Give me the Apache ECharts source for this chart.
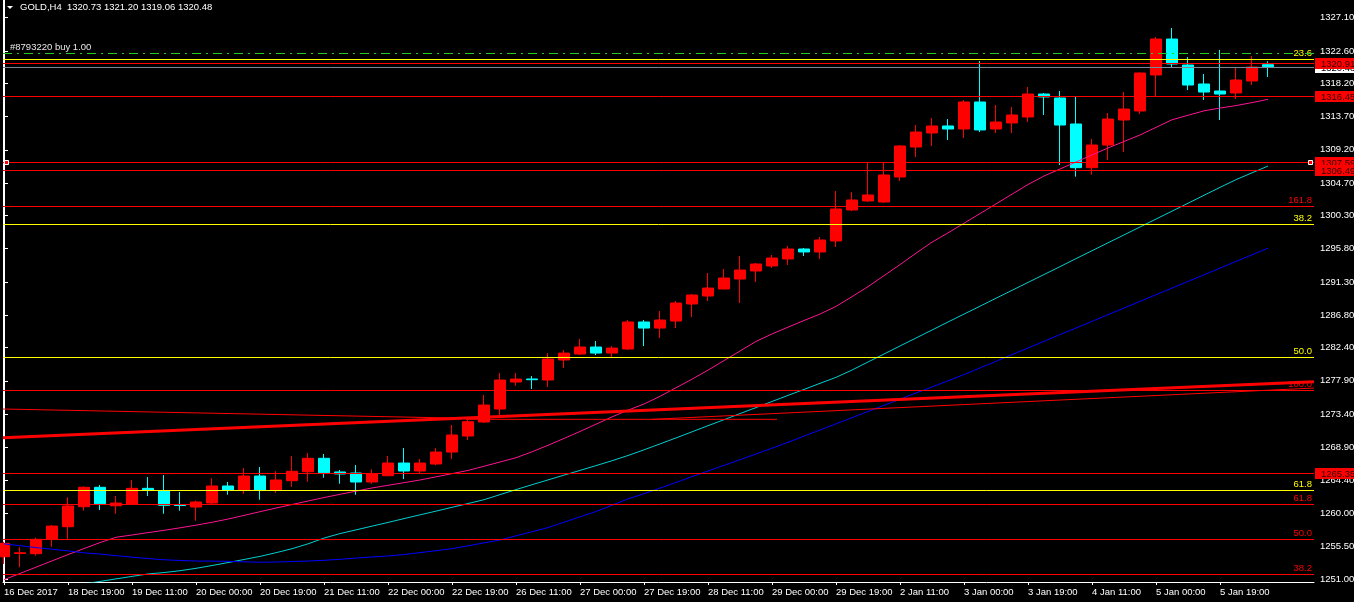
<!DOCTYPE html>
<html><head><meta charset="utf-8">
<script src="https://cdn.jsdelivr.net/npm/echarts@6/dist/echarts.min.js"></script>
<style>html,body{margin:0;padding:0;background:#000;}#c{width:1354px;height:602px;}</style>
</head><body><div id="c"></div>
<script>
// ---------- data ----------
const symbol = 'GOLD,H4';
const timeLabels = [
 '16 Dec 2017','18 Dec 07:00','18 Dec 11:00','18 Dec 15:00','18 Dec 19:00','18 Dec 23:00',
 '19 Dec 00:00','19 Dec 07:00','19 Dec 11:00','19 Dec 15:00','19 Dec 19:00','19 Dec 23:00',
 '20 Dec 00:00','20 Dec 07:00','20 Dec 11:00','20 Dec 15:00','20 Dec 19:00','20 Dec 23:00',
 '21 Dec 00:00','21 Dec 07:00','21 Dec 11:00','21 Dec 15:00','21 Dec 19:00','21 Dec 23:00',
 '22 Dec 00:00','22 Dec 07:00','22 Dec 11:00','22 Dec 15:00','22 Dec 19:00','22 Dec 23:00',
 '26 Dec 00:00','26 Dec 07:00','26 Dec 11:00','26 Dec 15:00','26 Dec 19:00','26 Dec 23:00',
 '27 Dec 00:00','27 Dec 07:00','27 Dec 11:00','27 Dec 15:00','27 Dec 19:00','27 Dec 23:00',
 '28 Dec 00:00','28 Dec 07:00','28 Dec 11:00','28 Dec 15:00','28 Dec 19:00','28 Dec 23:00',
 '29 Dec 00:00','29 Dec 07:00','29 Dec 11:00','29 Dec 15:00','29 Dec 19:00','29 Dec 23:00',
 '2 Jan 00:00','2 Jan 07:00','2 Jan 11:00','2 Jan 15:00','2 Jan 19:00','2 Jan 23:00',
 '3 Jan 00:00','3 Jan 07:00','3 Jan 11:00','3 Jan 15:00','3 Jan 19:00','3 Jan 23:00',
 '4 Jan 00:00','4 Jan 07:00','4 Jan 11:00','4 Jan 15:00','4 Jan 19:00','4 Jan 23:00',
 '5 Jan 00:00','5 Jan 07:00','5 Jan 11:00','5 Jan 15:00','5 Jan 19:00','5 Jan 23:00',
 '8 Jan 00:00','8 Jan 07:00'
];
const timeTickIndex = [0,4,8,12,16,20,24,28,32,36,40,44,48,52,56,60,64,68,72,76];

const opens = [1254.06,1254.50,1254.47,1256.42,1258.13,1260.84,1263.47,1260.97,1261.20,1263.33,
 1263.01,1261.10,1260.80,1261.34,1263.65,1263.10,1265.00,1263.10,1264.37,1265.58,
 1267.40,1265.55,1265.41,1264.19,1265.04,1266.76,1265.68,1266.63,1268.25,1270.42,
 1272.32,1274.08,1277.74,1278.15,1278.01,1280.72,1281.53,1282.48,1281.66,1282.21,
 1285.87,1285.05,1286.00,1288.31,1289.39,1290.34,1291.69,1292.78,1293.46,1294.41,
 1295.76,1295.36,1296.85,1301.05,1302.27,1302.13,1305.52,1309.58,1311.48,1312.43,
 1312.02,1315.68,1312.02,1312.84,1313.65,1316.76,1316.22,1312.70,1306.78,1309.85,
 1313.24,1314.46,1319.34,1324.21,1320.69,1318.12,1317.17,1316.90,1318.53,1320.73];
const closes = [1255.88,1254.60,1256.42,1258.22,1260.94,1263.47,1261.25,1261.34,1263.33,1263.06,
 1261.03,1261.00,1261.48,1263.65,1263.10,1265.00,1263.10,1264.46,1265.64,1267.40,
 1265.45,1265.28,1264.19,1265.31,1266.76,1265.68,1266.76,1268.25,1270.56,1272.36,
 1274.62,1278.01,1278.14,1278.05,1280.85,1281.66,1282.48,1281.66,1282.34,1285.87,
 1285.05,1286.14,1288.44,1289.53,1290.47,1291.83,1292.91,1293.73,1294.54,1295.76,
 1295.36,1296.98,1301.18,1302.40,1303.08,1305.79,1309.72,1311.61,1312.43,1312.02,
 1315.68,1311.89,1312.97,1313.92,1316.76,1316.36,1312.56,1306.78,1309.85,1313.37,
 1314.73,1319.61,1324.21,1320.83,1317.98,1317.03,1316.76,1318.66,1320.42,1320.48];
const lows = [1253.10,1252.65,1254.20,1255.42,1256.42,1260.30,1260.39,1259.89,1261.10,1262.29,
 1259.89,1260.30,1258.94,1261.20,1262.47,1262.60,1261.79,1262.74,1263.55,1264.23,
 1264.77,1263.96,1262.47,1263.96,1265.00,1264.59,1265.27,1266.45,1267.30,1269.88,
 1272.20,1273.27,1277.24,1276.79,1277.06,1279.63,1281.39,1281.39,1281.12,1282.08,
 1282.61,1283.70,1285.05,1286.55,1288.71,1290.30,1288.44,1291.29,1293.19,1293.59,
 1294.81,1294.41,1296.03,1300.90,1302.13,1302.00,1304.98,1308.23,1309.72,1310.53,
 1310.80,1311.61,1311.48,1311.48,1312.97,1313.92,1307.14,1305.56,1305.83,1307.82,
 1308.91,1314.05,1316.49,1320.28,1317.30,1315.95,1313.24,1316.09,1317.98,1319.06];
const highs = [1256.10,1255.35,1256.64,1258.36,1262.11,1263.60,1263.78,1262.29,1264.46,1264.86,
 1265.13,1262.83,1261.66,1264.69,1264.19,1266.08,1266.22,1265.64,1267.71,1268.12,
 1267.98,1265.82,1266.49,1265.91,1267.71,1268.79,1267.31,1268.79,1271.91,1272.59,
 1275.98,1278.96,1278.96,1278.55,1281.66,1282.08,1283.56,1283.29,1282.61,1286.14,
 1286.14,1287.36,1288.71,1289.66,1292.51,1293.05,1294.81,1293.86,1294.95,1296.17,
 1295.90,1297.39,1303.62,1303.48,1307.41,1307.41,1309.85,1312.56,1313.50,1313.37,
 1315.95,1321.23,1315.27,1314.99,1317.71,1316.90,1317.17,1316.49,1310.66,1314.19,
 1317.03,1319.70,1324.49,1325.70,1321.77,1319.47,1322.74,1320.42,1321.91,1321.20];

const maPink = [1250.95,1251.80,1252.65,1253.50,1254.35,1255.17,1255.98,1256.70,1257.01,1257.33,
 1257.64,1257.98,1258.34,1258.73,1259.17,1259.66,1260.17,1260.66,1261.14,1261.61,
 1262.08,1262.52,1262.95,1263.38,1263.74,1264.10,1264.46,1264.89,1265.32,1265.76,
 1266.32,1266.90,1267.48,1268.28,1269.16,1270.09,1271.04,1272.02,1273.01,1273.92,
 1274.76,1275.80,1276.96,1278.12,1279.35,1280.64,1281.94,1283.24,1284.25,1285.17,
 1286.07,1286.95,1287.98,1289.30,1290.66,1292.15,1293.65,1295.19,1296.69,1297.94,
 1299.25,1300.56,1301.87,1303.19,1304.50,1305.65,1306.60,1307.55,1308.50,1309.45,
 1310.33,1311.21,1312.24,1313.27,1313.88,1314.48,1314.86,1315.19,1315.60,1316.04];
const maCyan = [1248.67,1249.02,1249.36,1249.70,1250.04,1250.38,1250.72,1251.06,1251.40,1251.73,
 1251.92,1252.17,1252.49,1252.87,1253.27,1253.69,1254.11,1254.61,1255.15,1255.81,
 1256.59,1257.20,1257.70,1258.21,1258.71,1259.23,1259.74,1260.24,1260.76,1261.27,
 1261.79,1262.48,1263.16,1263.82,1264.47,1265.12,1265.76,1266.41,1267.07,1267.78,
 1268.55,1269.35,1270.16,1270.99,1271.82,1272.63,1273.46,1274.27,1275.10,1275.92,
 1276.73,1277.56,1278.37,1279.36,1280.45,1281.53,1282.62,1283.70,1284.78,1285.87,
 1286.94,1288.01,1289.09,1290.16,1291.23,1292.30,1293.37,1294.46,1295.53,1296.60,
 1297.67,1298.74,1299.82,1300.89,1301.96,1303.04,1304.11,1305.16,1306.08,1307.00];
const maBlue = [1255.81,1255.56,1255.30,1255.08,1254.86,1254.59,1254.43,1254.21,1254.00,1253.82,
 1253.65,1253.56,1253.48,1253.47,1253.44,1253.37,1253.32,1253.35,1253.41,1253.48,
 1253.58,1253.71,1253.88,1254.03,1254.17,1254.36,1254.62,1254.88,1255.16,1255.54,
 1255.94,1256.33,1256.90,1257.45,1258.02,1258.74,1259.47,1260.20,1261.04,1261.90,
 1262.60,1263.36,1264.13,1264.91,1265.68,1266.44,1267.21,1267.98,1268.77,1269.57,
 1270.41,1271.23,1272.07,1272.90,1273.74,1274.58,1275.41,1276.25,1277.07,1277.90,
 1278.74,1279.65,1280.54,1281.45,1282.34,1283.25,1284.16,1285.05,1285.96,1286.86,
 1287.76,1288.66,1289.57,1290.46,1291.37,1292.26,1293.17,1294.08,1294.97,1295.88];

const priceTicks = [1251.00,1255.50,1260.00,1264.40,1268.90,1273.40,1277.90,1282.40,1286.80,
 1291.30,1295.80,1300.30,1304.70,1309.20,1313.70,1318.20,1322.60,1327.10];
const priceMin = 1250.64, priceMax = 1329.50;
const barMin = -0.0625, barMax = 81.875;

const taggedLines = [1320.91, 1316.45, 1307.59, 1306.49, 1265.35];
const selectedLine = 1307.59;
const bidPrice = 1320.48;
const orderPrice = 1322.28;
const orderText = '#8793220 buy 1.00';
const fibYellowLevels = ['23.6','38.2','50.0','61.8'];
const fibYellowPrices = [1321.50, 1299.15, 1281.08, 1263.10];
const fibRedLevels = ['161.8','100.0','61.8','50.0','38.2'];
const fibRedPrices = [1301.59, 1276.65, 1261.17, 1256.42, 1251.72];
const trendThick = [[-0.0625, 1270.17], [81.875, 1277.78]];
const trendThinA = [[-0.0625, 1274.08], [28.875, 1272.82]];
const trendThinB = [[28.875, 1272.68], [48.31, 1272.68]];
const trendThinC = [[40.5, 1272.68], [81.875, 1276.92]];

// ---------- chart ----------
const FONT = 'Liberation Sans';
const FS = 9.5;
const FONTSTR = FS + 'px "' + FONT + '"';
const RED = '#ff0000', YEL = '#ffff00';
const chart = echarts.init(document.getElementById('c'), null, {renderer: 'canvas'});

const candleData = opens.map((o, i) => [i, o, closes[i], lows[i], highs[i]]);
const toXY = arr => arr.map((v, i) => [i, v]);
const last = opens.length - 1;
const header = symbol + '  ' + [opens[last], highs[last], lows[last], closes[last]].map(v => v.toFixed(2)).join(' ');

// horizontal objects (drawn in this order)
const hItems = [];
fibYellowPrices.forEach((p, k) => hItems.push({price: p, color: YEL, fib: fibYellowLevels[k]}));
fibRedPrices.forEach((p, k) => hItems.push({price: p, color: RED, fib: fibRedLevels[k]}));
hItems.push({price: orderPrice, color: '#22cc22', dash: [9, 5, 2, 5], left: orderText});
hItems.push({price: bidPrice, color: '#778899', tag: {bg: '#ffffff', fg: '#000000'}});
taggedLines.forEach(p => hItems.push({price: p, color: RED, tag: {bg: RED, fg: '#300000'},
  handles: p === selectedLine}));

function renderHLine(params, api) {
  const it = hItems[params.dataIndex];
  const cs = params.coordSys;
  const y = Math.round(api.coord([barMin, it.price])[1]) + 0.5;
  const x1 = cs.x, x2 = cs.x + cs.width;
  const ch = [{type: 'line', shape: {x1: x1, y1: y, x2: x2, y2: y},
    style: {stroke: it.color, lineWidth: 1, lineDash: it.dash || null}}];
  if (it.fib) ch.push({type: 'text', x: x2 - 2, y: y - 1.5,
    style: {text: it.fib, fill: it.color, font: FONTSTR, align: 'right', verticalAlign: 'bottom'}});
  if (it.left) ch.push({type: 'text', x: x1 + 7, y: y - 1.5,
    style: {text: it.left, fill: '#e8e8e8', font: FONTSTR, align: 'left', verticalAlign: 'bottom'}});
  if (it.tag) {
    ch.push({type: 'rect', shape: {x: x2 + 1, y: y - 5.5, width: 40, height: 11}, style: {fill: it.tag.bg}});
    ch.push({type: 'text', x: x2 + 7, y: y + 0.5,
      style: {text: it.price.toFixed(2), fill: it.tag.fg, font: FONTSTR, align: 'left', verticalAlign: 'middle'}});
  }
  if (it.handles) {
    ch.push({type: 'rect', shape: {x: x1 + 1.5, y: y - 2, width: 4, height: 4}, style: {fill: RED, stroke: '#ffffff', lineWidth: 1}});
    ch.push({type: 'rect', shape: {x: x2 - 5.5, y: y - 2, width: 4, height: 4}, style: {fill: RED, stroke: '#ffffff', lineWidth: 1}});
  }
  return {type: 'group', children: ch};
}

const trendSeries = (pts, w) => ({type: 'line', data: pts, showSymbol: false, symbol: 'none',
  lineStyle: {color: RED, width: w}, z: 6, silent: true});

chart.setOption({
  animation: false,
  backgroundColor: '#000000',
  title: {text: header, left: 20, top: 2, padding: 0,
    textStyle: {color: '#ffffff', fontFamily: FONT, fontSize: FS, fontWeight: 'normal'}},
  graphic: [{type: 'polygon', shape: {points: [[7, 6], [13, 6], [10, 9]]}, style: {fill: '#ffffff'}}],
  grid: {left: 3, right: 40, top: 0, bottom: 20, outerBoundsMode: 'none', containLabel: false},
  xAxis: {type: 'value', min: barMin, max: barMax, position: 'bottom',
    splitLine: {show: false},
    axisLine: {show: true, onZero: false, lineStyle: {color: '#ffffff', width: 1}},
    axisTick: {show: true, customValues: timeTickIndex, length: 3, lineStyle: {color: '#ffffff'}},
    axisLabel: {show: true, customValues: timeTickIndex, formatter: v => timeLabels[Math.round(v)],
      align: 'left', color: '#ffffff', fontFamily: FONT, fontSize: FS, margin: 5}},
  yAxis: [
    {type: 'value', min: priceMin, max: priceMax, position: 'right', splitLine: {show: false},
      axisLine: {show: true, lineStyle: {color: '#ffffff', width: 1}},
      axisTick: {show: true, customValues: priceTicks, length: 4, lineStyle: {color: '#ffffff'}},
      axisLabel: {show: true, customValues: priceTicks, formatter: v => v.toFixed(2),
        color: '#ffffff', fontFamily: FONT, fontSize: FS, margin: 6}},
    {type: 'value', min: priceMin, max: priceMax, position: 'left', splitLine: {show: false},
      axisLine: {show: true, lineStyle: {color: '#ffffff', width: 1}},
      axisTick: {show: false}, axisLabel: {show: false}}
  ],
  series: [
    {type: 'candlestick', data: candleData, encode: {x: 0, y: [1, 2, 3, 4]}, barWidth: 11, z: 2,
      itemStyle: {color: RED, color0: '#00ffff', borderColor: RED, borderColor0: '#00ffff', borderWidth: 1},
      silent: true},
    {type: 'line', data: toXY(maPink), showSymbol: false, symbol: 'none', lineStyle: {color: '#ff1493', width: 1}, z: 3, silent: true},
    {type: 'line', data: toXY(maCyan), showSymbol: false, symbol: 'none', lineStyle: {color: '#00ced1', width: 1}, z: 3, silent: true},
    {type: 'line', data: toXY(maBlue), showSymbol: false, symbol: 'none', lineStyle: {color: '#0000ff', width: 1}, z: 3, silent: true},
    {type: 'custom', coordinateSystem: 'cartesian2d', data: hItems.map(it => [barMin, it.price]),
      encode: {x: 0, y: 1}, renderItem: renderHLine, z: 5, clip: false, silent: true},
    trendSeries(trendThinA, 1), trendSeries(trendThinB, 1), trendSeries(trendThinC, 1),
    trendSeries(trendThick, 3)
  ]
});
</script>
</body></html>
